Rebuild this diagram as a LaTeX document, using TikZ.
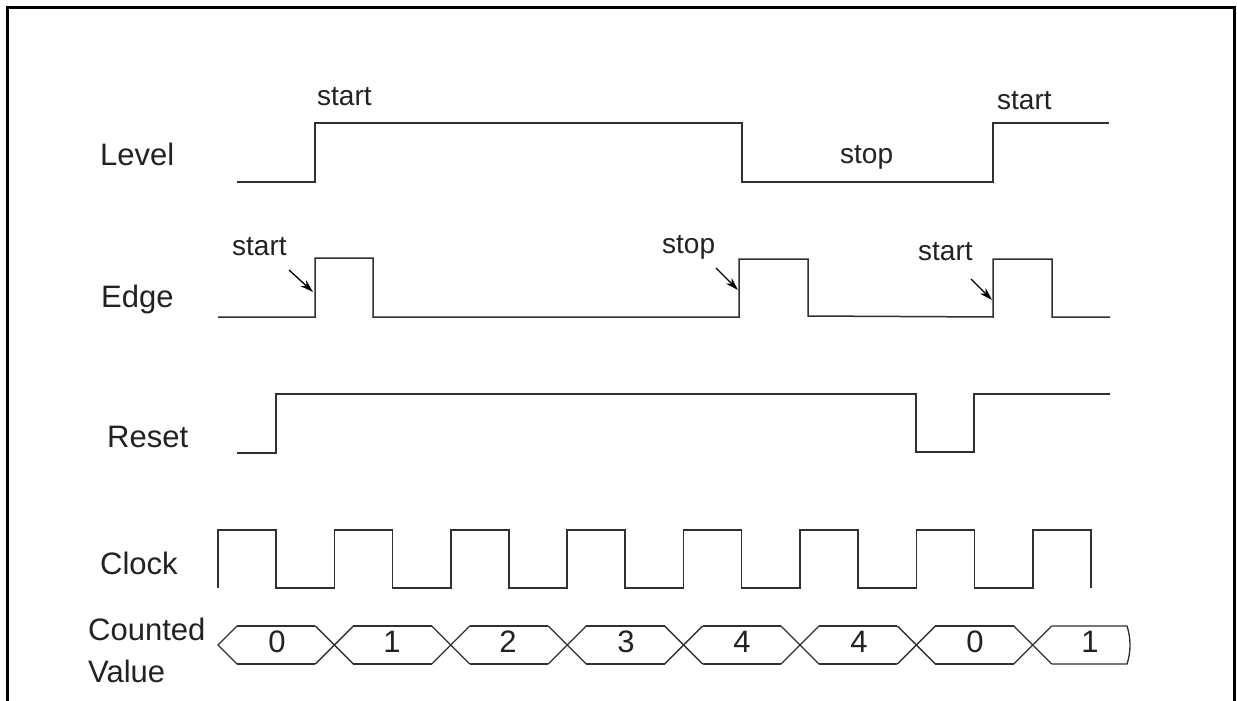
\documentclass[tikz,border=0pt]{standalone}
\usepackage{fontspec}
\setmainfont{Liberation Sans}
\usetikzlibrary{arrows.meta}
\definecolor{ink}{HTML}{222222}
\definecolor{wave}{HTML}{303030}
\begin{document}
\begin{tikzpicture}[x=1pt,y=-1pt,
  rowlabel/.style={anchor=base west,inner sep=0pt,text=ink,font=\fontsize{31}{36}\selectfont},
  annot/.style={anchor=base west,inner sep=0pt,text=ink,font=\fontsize{28}{32}\selectfont},
  digit/.style={anchor=base,inner sep=0pt,text=ink,font=\fontsize{31}{36}\selectfont},
  sig/.style={draw=wave,line width=1.5pt,line join=miter},
  pointer/.style={draw=black,line width=1.3pt,-{Stealth[length=13pt,width=8pt]}},
  framebox/.style={draw=black,line width=3pt}]
\useasboundingbox (0,0) rectangle (1237,701);
\fill[white] (0,0) rectangle (1237,701);
% frame
\draw[framebox] (7,701) -- (7,8) -- (1234,8) -- (1234,701);

% row labels
\node[rowlabel] (lLevel) at (100,165) {Level};
\node[rowlabel] (lEdge) at (101,307) {Edge};
\node[rowlabel] (lReset) at (107,447) {Reset};
\node[rowlabel] (lClock) at (100,574) {Clock};
\node[rowlabel] (lCount) at (88,640) {Counted};
\node[rowlabel] (lValue) at (88,682) {Value};

% Level
\draw[sig] (237,182) -- (315,182) -- (315,123) -- (742,123) -- (742,182) -- (993,182) -- (993,123) -- (1109,123);
\node[annot] (lvStart1) at (317,105) {start};
\node[annot] (lvStop) at (840,163) {stop};
\node[annot] (lvStart2) at (997,110) {start};

% Edge
\draw[sig] (218,317) -- (315,317) -- (315,258) -- (373,258) -- (373,317) -- (739,317) -- (739,259) -- (808,259) -- (808,316) -- (993,317) -- (993,259) -- (1052,259) -- (1052,317) -- (1110,317);
\node[annot] (edStart1) at (232,255) {start};
\node[annot] (edStop) at (662,253) {stop};
\node[annot] (edStart2) at (918,260) {start};
\coordinate (a1s) at (289,270); \coordinate (a1e) at (313,292);
\coordinate (a2s) at (716,268); \coordinate (a2e) at (738,290);
\coordinate (a3s) at (971,279); \coordinate (a3e) at (992,300);
\draw[pointer] (a1s) -- (a1e);
\draw[pointer] (a2s) -- (a2e);
\draw[pointer] (a3s) -- (a3e);

% Reset
\draw[sig] (237,453) -- (276,453) -- (276,394) -- (916,394) -- (916,452) -- (974,452) -- (974,394) -- (1110,394);

% Clock
\draw[sig] (218,588) -- (218,530)
  \foreach \k in {0,...,6} {
    -- ({276+116.4*\k},530) -- ({276+116.4*\k},588) -- ({334.4+116.4*\k},588) -- ({334.4+116.4*\k},530)
  } -- (1091,530) -- (1091,588);

% Counted value bus
\draw[sig,line width=1.3pt] (237,626) -- (218,645) -- (237,664);
\foreach \k in {1,...,7} {
  \pgfmathsetmacro{\c}{218+116.4*\k}
  \draw[sig,line width=1.3pt] ({\c-19},626) -- ({\c+19},664);
  \draw[sig,line width=1.3pt] ({\c-19},664) -- ({\c+19},626);
}
\foreach \k in {0,...,6} {
  \pgfmathsetmacro{\a}{218+116.4*\k+19}
  \pgfmathsetmacro{\b}{218+116.4*(\k+1)-19}
  \draw[sig,line width=1.3pt] (\a,626) -- (\b,626);
  \draw[sig,line width=1.3pt] (\a,664) -- (\b,664);
}
\draw[sig,line width=1.3pt] (1051.8,626) -- (1127,626) .. controls (1131,638) and (1131,652) .. (1127,664) -- (1051.8,664);

\node[digit] (v0) at (277,652) {0};
\node[digit] (v1) at (392,652) {1};
\node[digit] (v2) at (508,652) {2};
\node[digit] (v3) at (626,652) {3};
\node[digit] (v4) at (742,652) {4};
\node[digit] (v5) at (859,652) {4};
\node[digit] (v6) at (975,652) {0};
\node[digit] (v7) at (1090,652) {1};
\end{tikzpicture}
\end{document}
